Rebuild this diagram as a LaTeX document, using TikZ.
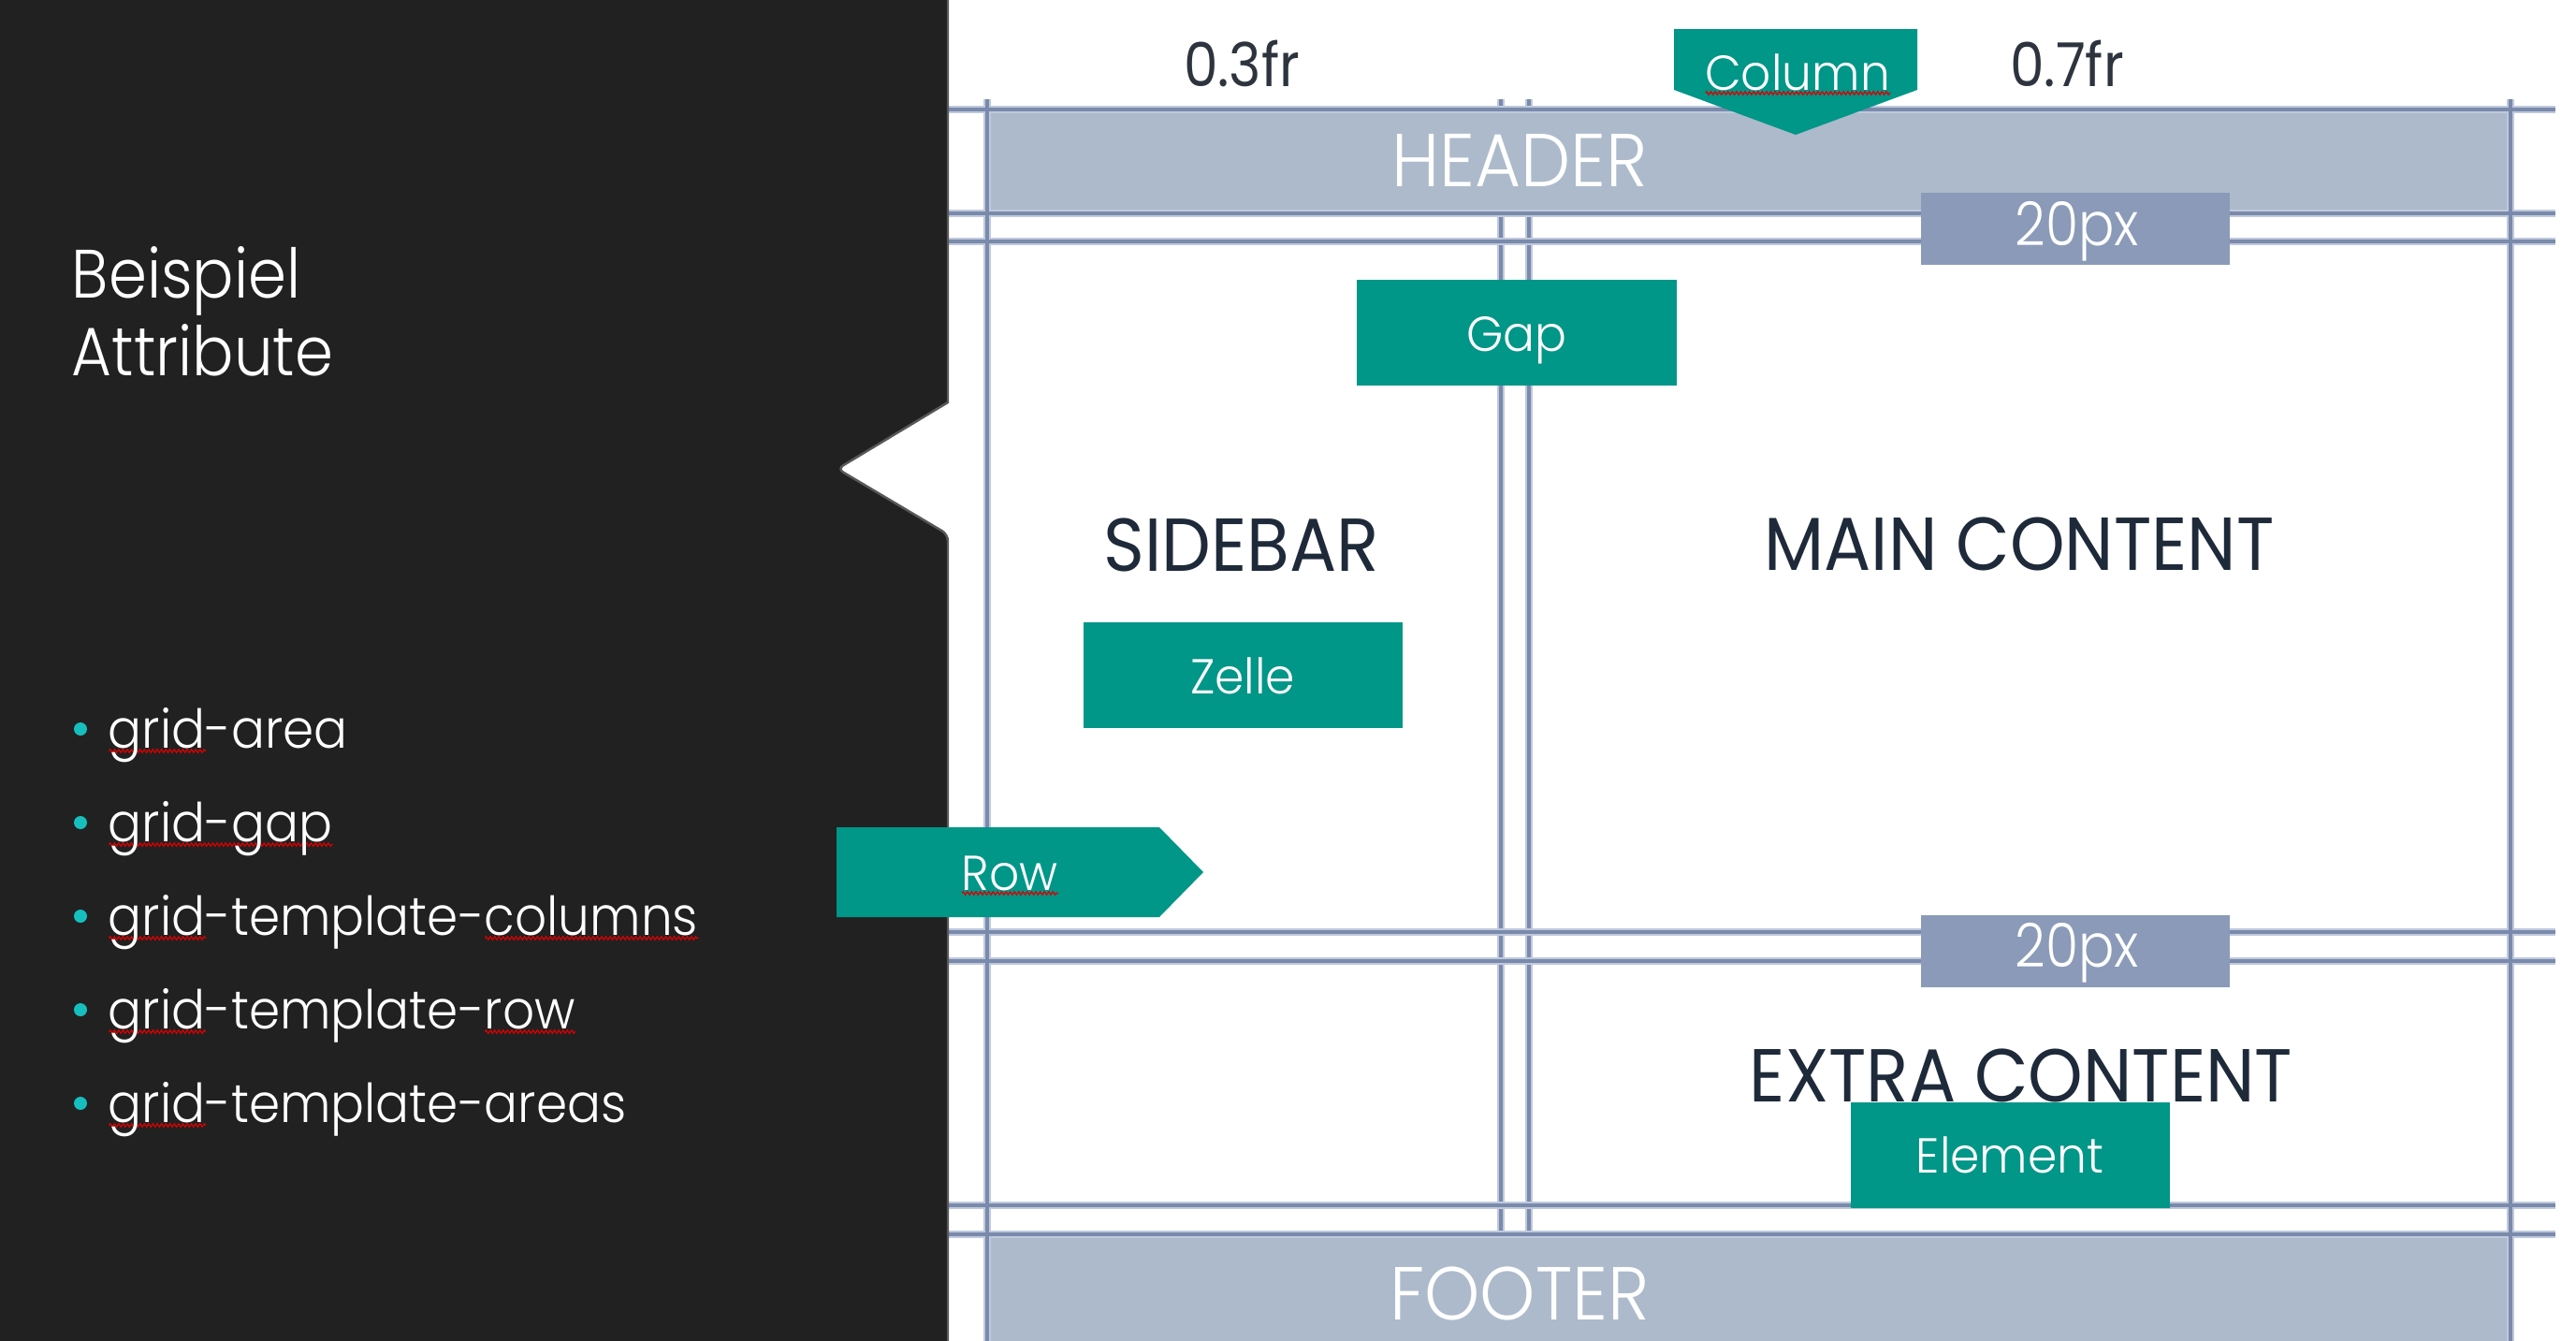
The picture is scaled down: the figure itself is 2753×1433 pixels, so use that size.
\documentclass[tikz,border=0pt]{standalone}
\usepackage{fontspec}
\IfFontExistsTF{Poppins Light}{%
  \setmainfont{Poppins Light}%
  \newfontfamily\titlefnt[FakeStretch=0.9]{Poppins Light}%
  \newfontfamily\bulfnt[FakeStretch=0.93]{Poppins Light}%
  \newfontfamily\lblfont[FakeStretch=0.94]{Poppins Light}%
  \newfontfamily\pxfont[FakeStretch=0.88]{Poppins Light}%
  \newfontfamily\tealfnt[FakeStretch=0.96]{Poppins Light}%
}{%
  \setmainfont{Poppins}%
  \newfontfamily\titlefnt[FakeStretch=0.9]{Poppins}%
  \newfontfamily\bulfnt[FakeStretch=0.93]{Poppins}%
  \newfontfamily\lblfont[FakeStretch=0.94]{Poppins}%
  \newfontfamily\pxfont[FakeStretch=0.88]{Poppins}%
  \newfontfamily\tealfnt[FakeStretch=0.96]{Poppins}%
}
\newfontfamily\darklbl[FakeStretch=0.93]{Poppins}
\newfontfamily\frfont[FakeStretch=0.90]{Poppins}
\usetikzlibrary{decorations.pathmorphing}
\definecolor{panel}{RGB}{33,33,33}
\definecolor{edgegrey}{RGB}{88,88,88}
\definecolor{gridc}{RGB}{122,138,172}
\definecolor{gridhalo}{RGB}{192,201,220}
\definecolor{hdrfill}{RGB}{173,186,203}
\definecolor{pxfill}{RGB}{138,154,184}
\definecolor{tealc}{RGB}{0,150,136}
\definecolor{bulletc}{RGB}{22,190,190}
\definecolor{lbltext}{RGB}{30,42,58}
\definecolor{frtext}{RGB}{45,52,62}
\newlength\sqlen
\newcommand\sqw[1]{\settowidth\sqlen{#1}\rlap{\tikz[baseline=0pt]\draw[red!85!black,line width=0.35pt,decorate,decoration={zigzag,amplitude=0.5pt,segment length=1.3pt}] (0pt,-1pt) -- (\sqlen,-1pt);}#1}
\tikzset{
  txt/.style={inner sep=0pt, outer sep=0pt},
  ghalo/.style={draw=gridhalo, line width=2.1pt},
  gline/.style={draw=gridc, line width=1.1pt},
  titlefont/.style={font=\titlefnt\fontsize{20.8}{24}\selectfont},
  bulletfont/.style={font=\bulfnt\fontsize{16.3}{20}\selectfont},
  tealfont/.style={font=\tealfnt\fontsize{14.9}{18}\selectfont},
  lblfontsty/.style={font=\lblfont\fontsize{22.8}{26}\selectfont},
  darkfontsty/.style={font=\darklbl\fontsize{22.8}{26}\selectfont},
  frfontsty/.style={font=\frfont\fontsize{18.4}{22}\selectfont},
  pxfontsty/.style={font=\pxfont\fontsize{18.4}{22}\selectfont},
}
\begin{document}
\begin{tikzpicture}[x=0.01cm,y=-0.01cm]
\useasboundingbox (0,0) rectangle (2753,1433);
\fill[white] (0,0) rectangle (2753,1433);
% column gap lines
\foreach \st in {ghalo,gline}{
  \draw[\st] (1604,106) -- (1604,1319);
  \draw[\st] (1634,106) -- (1634,1319);
}
% header / footer fills
\fill[hdrfill] (1055,117) rectangle (2683,228);
\fill[hdrfill] (1055,1319) rectangle (2683,1433);
% horizontal and outer vertical lines
\foreach \st in {ghalo,gline}{
  \foreach \yy in {117,228,258,996,1027,1288,1319}
    \draw[\st] (1013,\yy) -- (2731,\yy);
  \draw[\st] (1055,106) -- (1055,1433);
  \draw[\st] (2683,106) -- (2683,1433);
}
% dark panel with notch
\fill[panel] (0,0) -- (1013,0) -- (1013,430) [rounded corners=2pt] -- (895,501) -- (1013,571) [sharp corners] -- (1013,1433) -- (0,1433) -- cycle;
\draw[edgegrey, line width=0.7pt] (1013,0) -- (1013,430) [rounded corners=2pt] -- (895,501) -- (1013,571) [sharp corners] -- (1013,1433);
% 20px boxes
\fill[pxfill] (2053,206) rectangle (2383,283);
\fill[pxfill] (2053,978) rectangle (2383,1055);
% teal shapes
\fill[tealc] (1789,31) -- (2049,31) -- (2049,96) -- (1919,144) -- (1789,96) -- cycle;
\fill[tealc] (894,884) -- (1239,884) -- (1286,932) -- (1239,980) -- (894,980) -- cycle;
\fill[tealc] (1450,299) rectangle (1792,412);
\fill[tealc] (1158,665) rectangle (1499,778);
\fill[tealc] (1978,1178) rectangle (2319,1291);
% title
\node[txt, white, titlefont, anchor=base west] (t1) at (77,318) {Beispiel};
\node[txt, white, titlefont, anchor=base west] (t2) at (77,401) {Attribute};
% bullets
\foreach \i/\t in {0/{\sqw{grid}-area},1/{\sqw{grid-gap}},2/{\sqw{grid}-template-\sqw{columns}},3/{\sqw{grid}-template-\sqw{row}},4/{\sqw{grid}-template-areas}}{
  \fill[bulletc] (86,779+100*\i) circle (7);
  \node[txt, white, bulletfont, anchor=base west] (b\i) at (116,799+100*\i) {\t};
}
% column labels
\node[txt, frtext, frfontsty, anchor=base] (fr1) at (1327,92) {0.3fr};
\node[txt, frtext, frfontsty, anchor=base] (fr2) at (2209,92) {0.7fr};
% area labels
\node[txt, white, lblfontsty, anchor=base] (hdr) at (1624,199) {HEADER};
\node[txt, white, lblfontsty, anchor=base] (ftr) at (1624,1410) {FOOTER};
\node[txt, lbltext, darkfontsty, anchor=base] (sb) at (1327,610) {SIDEBAR};
\node[txt, lbltext, darkfontsty, anchor=base] (mc) at (2158,609) {MAIN CONTENT};
\node[txt, lbltext, darkfontsty, anchor=base] (ec) at (2160,1177) {EXTRA CONTENT};
\node[txt, white, pxfontsty, anchor=base] (px1) at (2220,262) {20px};
\node[txt, white, pxfontsty, anchor=base] (px2) at (2220,1033) {20px};
% teal labels
\node[txt, white, tealfont, anchor=base] (col) at (1921,96) {\sqw{Column}};
\node[txt, white, tealfont, anchor=base] (gap) at (1621,375) {Gap};
\node[txt, white, tealfont, anchor=base] (zel) at (1328,741) {Zelle};
\node[txt, white, tealfont, anchor=base] (row) at (1079,951) {\sqw{Row}};
\node[txt, white, tealfont, anchor=base] (elm) at (2148,1253) {Element};
\end{tikzpicture}
\end{document}
